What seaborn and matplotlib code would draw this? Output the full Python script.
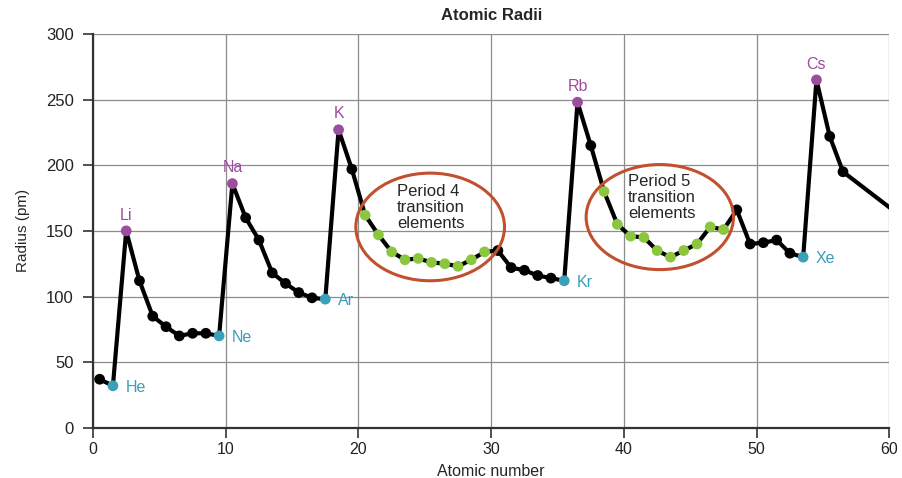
import seaborn as sns
import matplotlib.pyplot as plt
import pandas as pd
from matplotlib.patches import Ellipse

# Atomic radii (pm) for Z = 1..57
radii = [37, 32, 150, 112, 85, 77, 70, 72, 72, 70,
         186, 160, 143, 118, 110, 103, 99, 98,
         227, 197, 162, 147, 134, 128, 129, 126, 125, 123, 128, 134,
         135, 122, 120, 116, 114, 112,
         248, 215, 180, 155, 146, 145, 135, 130, 135, 140, 153, 151,
         166, 140, 141, 143, 133, 130,
         265, 222, 195]
# the line runs on past the right edge (clipped at 60)
tail_z = [61]
tail_radius = [164]

alkali = {3: "Li", 11: "Na", 19: "K", 37: "Rb", 55: "Cs"}
noble = {2: "He", 10: "Ne", 18: "Ar", 36: "Kr", 54: "Xe"}
transition = list(range(21, 31)) + list(range(39, 49))

purple = "#9b4d9e"
teal = "#3a9fb8"
green = "#8cc63e"
red = "#c1502e"


def group(z):
    if z in alkali:
        return "alkali"
    if z in noble:
        return "noble"
    if z in transition:
        return "transition"
    return "other"


z = list(range(1, len(radii) + 1))
df = pd.DataFrame({"z": z, "radius": radii})
df["x"] = df["z"] - 0.5  # points sit half a unit left of the atomic number
df["group"] = df["z"].apply(group)

line_df = pd.concat([df[["x", "radius"]],
                     pd.DataFrame({"x": [t - 0.5 for t in tail_z], "radius": tail_radius})])

sns.set_style("white")
plt.rcParams["font.family"] = ["Liberation Sans", "DejaVu Sans"]

fig = plt.figure(figsize=(9.03, 4.78), dpi=100)
ax = fig.add_axes([0.103, 0.105, 0.882, 0.824])

sns.lineplot(data=line_df, x="x", y="radius", color="black", linewidth=3, ax=ax,
             zorder=3, sort=False)
sns.scatterplot(data=df, x="x", y="radius", hue="group",
                palette={"alkali": purple, "noble": teal, "transition": green, "other": "black"},
                s=60, edgecolor="none", legend=False, ax=ax, zorder=4, clip_on=False)

for zz, sym in alkali.items():
    ax.annotate(sym, (zz - 0.5, radii[zz - 1]), xytext=(0, 6), textcoords="offset points",
                ha="center", va="bottom", color=purple, fontsize=11.5)
for zz, sym in noble.items():
    ax.annotate(sym, (zz - 0.5, radii[zz - 1]), xytext=(9, -1), textcoords="offset points",
                ha="left", va="center", color=teal, fontsize=11.5)

ax.add_patch(Ellipse((25.4, 153), 11.2, 82, fill=False, edgecolor=red, linewidth=2.2, zorder=5))
ax.add_patch(Ellipse((42.7, 160.5), 11.1, 80, fill=False, edgecolor=red, linewidth=2.2, zorder=5))
ax.text(22.9, 186, "Period 4\ntransition\nelements", ha="left", va="top", fontsize=12,
        linespacing=1.08, zorder=6)
ax.text(40.3, 193, "Period 5\ntransition\nelements", ha="left", va="top", fontsize=12,
        linespacing=1.08, zorder=6)

ax.set_xlim(0, 60)
ax.set_ylim(0, 300)
ax.set_xticks(range(0, 61, 10))
ax.set_yticks(range(0, 301, 50))
ax.grid(True, color="#8c8c8c", linewidth=0.9)
ax.set_axisbelow(True)
for side in ["top", "right"]:
    ax.spines[side].set_visible(False)
for side in ["left", "bottom"]:
    ax.spines[side].set_color("#333333")
    ax.spines[side].set_linewidth(1.6)
ax.tick_params(axis="both", direction="out", length=7, width=1.2, color="#333333",
               labelsize=11.5, labelcolor="#222222", bottom=True, left=True)
ax.tick_params(axis="y", pad=7, labelsize=12)
ax.set_xlabel("Atomic number", fontsize=11.5, labelpad=5)
ax.set_ylabel("Radius (pm)", fontsize=11, labelpad=11)
ax.set_title("Atomic Radii", fontsize=12, fontweight="bold", pad=10)

plt.savefig("out.png", dpi=100)
plt.close()
